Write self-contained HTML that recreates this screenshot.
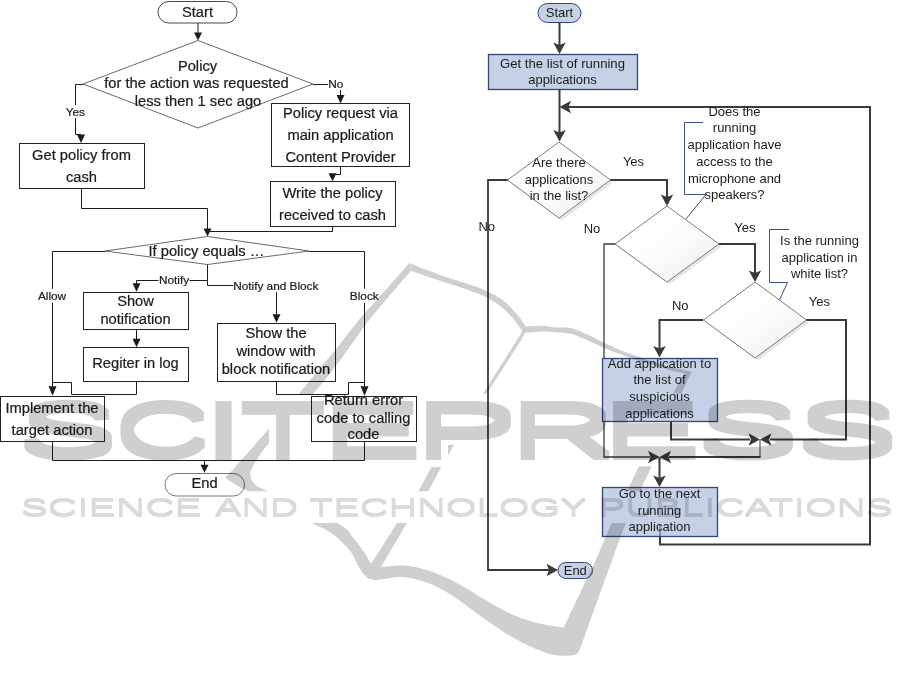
<!DOCTYPE html>
<html lang="en"><head><meta charset="utf-8"><title>Flowcharts</title>
<style>
html,body{margin:0;padding:0;background:#fff;}
body{width:910px;height:691px;overflow:hidden;}
svg{display:block;}
svg text{font-family:"Liberation Sans", sans-serif;}
.wm{mix-blend-mode:multiply;}
.lt text{stroke:#1c1c1c;stroke-width:0.22px;}
</style></head><body>
<svg width="910" height="691" viewBox="0 0 910 691">
<defs>
<linearGradient id="dg" x1="0" y1="0" x2="1" y2="1"><stop offset="0" stop-color="#ffffff"/><stop offset="0.55" stop-color="#fcfcfc"/><stop offset="1" stop-color="#ececec"/></linearGradient>
</defs>
<rect x="0" y="0" width="910" height="691" fill="#fff"/>
<g id="left-chart" class="lt">
<rect x="158" y="1.5" width="79" height="21.5" rx="10.75" fill="none" stroke="#333" stroke-width="0.9"/>
<text x="197.5" y="16.6" font-size="14.7" text-anchor="middle" fill="#1c1c1c" >Start</text>
<polyline points="198,23 198,34" fill="none" stroke="#1c1c1c" stroke-width="1" />
<polygon points="194,32.5 202,32.5 198,40.5" fill="#1c1c1c" stroke="none" stroke-width="0" />
<polygon points="83,84 198,40.5 313,84 198,128" fill="none" stroke="#444" stroke-width="0.8" />
<text x="197.5" y="70.8" font-size="14.7" text-anchor="middle" fill="#1c1c1c" >Policy</text>
<text x="196.5" y="88" font-size="14.7" text-anchor="middle" fill="#1c1c1c" >for the action was requested</text>
<text x="198" y="105.5" font-size="14.7" text-anchor="middle" fill="#1c1c1c" >less then 1 sec ago</text>
<polyline points="83,84.5 75.5,84.5 75.5,134.5 81,134.5" fill="none" stroke="#1c1c1c" stroke-width="1" />
<polygon points="77,134.5 85,134.5 81,143" fill="#1c1c1c" stroke="none" stroke-width="0" />
<rect x="63.8" y="105.0" width="23" height="13" fill="#fff"/>
<text x="75.3" y="115.5" font-size="11.8" text-anchor="middle" fill="#1c1c1c" >Yes</text>
<rect x="19.5" y="143.5" width="125.0" height="45.0" fill="none" stroke="#222" stroke-width="1" />
<text x="81.5" y="160.2" font-size="14.7" text-anchor="middle" fill="#1c1c1c" >Get policy from</text>
<text x="81.5" y="182.2" font-size="14.7" text-anchor="middle" fill="#1c1c1c" >cash</text>
<polyline points="81.5,188.5 81.5,208.5 207.5,208.5 207.5,230" fill="none" stroke="#1c1c1c" stroke-width="1" />
<polygon points="203.5,228.5 211.5,228.5 207.5,236.5" fill="#1c1c1c" stroke="none" stroke-width="0" />
<polyline points="313,84.5 340.5,84.5 340.5,96" fill="none" stroke="#1c1c1c" stroke-width="1" />
<rect x="328.05" y="77.1" width="15.5" height="13" fill="#fff"/>
<text x="335.8" y="87.6" font-size="11.8" text-anchor="middle" fill="#1c1c1c" >No</text>
<polyline points="340.5,90.5 340.5,96" fill="none" stroke="#1c1c1c" stroke-width="1" />
<polygon points="336.5,95.0 344.5,95.0 340.5,103.5" fill="#1c1c1c" stroke="none" stroke-width="0" />
<rect x="271.5" y="103.5" width="138.0" height="63.0" fill="none" stroke="#222" stroke-width="1" />
<text x="340.5" y="117.7" font-size="14.7" text-anchor="middle" fill="#1c1c1c" >Policy request via</text>
<text x="340.5" y="139.7" font-size="14.7" text-anchor="middle" fill="#1c1c1c" >main application</text>
<text x="340.5" y="161.7" font-size="14.7" text-anchor="middle" fill="#1c1c1c" >Content Provider</text>
<polyline points="340.5,166.5 340.5,174.5 332.5,174.5" fill="none" stroke="#1c1c1c" stroke-width="1" />
<polygon points="328.5,173.2 336.5,173.2 332.5,181.2" fill="#1c1c1c" stroke="none" stroke-width="0" />
<rect x="270.5" y="181.5" width="125.0" height="45.0" fill="none" stroke="#222" stroke-width="1" />
<text x="332.5" y="198.2" font-size="14.7" text-anchor="middle" fill="#1c1c1c" >Write the policy</text>
<text x="332.5" y="220.2" font-size="14.7" text-anchor="middle" fill="#1c1c1c" >received to cash</text>
<polyline points="332.5,226.5 332.5,231.5 207.5,231.5" fill="none" stroke="#1c1c1c" stroke-width="1" />
<polygon points="105,251 207.5,236.5 309,251 207.5,264.5" fill="none" stroke="#444" stroke-width="0.8" />
<text x="206.5" y="255.7" font-size="14.7" text-anchor="middle" fill="#1c1c1c" >If policy equals …</text>
<polyline points="105,251.5 52.5,251.5 52.5,388" fill="none" stroke="#1c1c1c" stroke-width="1" />
<polygon points="48.5,386.3 56.5,386.3 52.5,395.8" fill="#1c1c1c" stroke="none" stroke-width="0" />
<rect x="37.0" y="288.7" width="30" height="14" fill="#fff"/>
<text x="52" y="300.2" font-size="11.8" text-anchor="middle" fill="#1c1c1c" >Allow</text>
<polyline points="207.5,264.5 207.5,280.5 136.5,280.5 136.5,284" fill="none" stroke="#1c1c1c" stroke-width="1" />
<polygon points="132.5,283.3 140.5,283.3 136.5,291.8" fill="#1c1c1c" stroke="none" stroke-width="0" />
<rect x="158.5" y="274.5" width="31" height="12" fill="#fff"/>
<text x="174" y="284" font-size="11.8" text-anchor="middle" fill="#1c1c1c" >Notify</text>
<polyline points="207.5,280.5 207.5,285.5 276.5,285.5 276.5,315" fill="none" stroke="#1c1c1c" stroke-width="1" />
<polygon points="272.5,314.3 280.5,314.3 276.5,322.8" fill="#1c1c1c" stroke="none" stroke-width="0" />
<rect x="233.3" y="278.1" width="85" height="14" fill="#fff"/>
<text x="275.8" y="289.6" font-size="11.8" text-anchor="middle" fill="#1c1c1c" >Notify and Block</text>
<polyline points="309,251.5 364.5,251.5 364.5,388" fill="none" stroke="#1c1c1c" stroke-width="1" />
<polygon points="360.5,386.3 368.5,386.3 364.5,395.8" fill="#1c1c1c" stroke="none" stroke-width="0" />
<rect x="349.8" y="288.7" width="29" height="14" fill="#fff"/>
<text x="364.3" y="300.2" font-size="11.8" text-anchor="middle" fill="#1c1c1c" >Block</text>
<rect x="83.5" y="292.5" width="105.0" height="37.0" fill="none" stroke="#222" stroke-width="1" />
<text x="135.5" y="306.1" font-size="14.7" text-anchor="middle" fill="#1c1c1c" >Show</text>
<text x="135.5" y="323.7" font-size="14.7" text-anchor="middle" fill="#1c1c1c" >notification</text>
<polyline points="136.5,329.5 136.5,340" fill="none" stroke="#1c1c1c" stroke-width="1" />
<polygon points="132.5,338.7 140.5,338.7 136.5,347.2" fill="#1c1c1c" stroke="none" stroke-width="0" />
<rect x="83.5" y="347.5" width="105.0" height="34.0" fill="none" stroke="#222" stroke-width="1" />
<text x="135.5" y="367.7" font-size="14.7" text-anchor="middle" fill="#1c1c1c" >Regiter in log</text>
<polyline points="136.5,381.5 136.5,394.5 71.5,394.5 71.5,382.5 52.5,382.5" fill="none" stroke="#1c1c1c" stroke-width="1" />
<rect x="0.5" y="396.5" width="104.0" height="45.0" fill="none" stroke="#222" stroke-width="1" />
<text x="52" y="412.7" font-size="14.7" text-anchor="middle" fill="#1c1c1c" >Implement the</text>
<text x="52" y="434.7" font-size="14.7" text-anchor="middle" fill="#1c1c1c" >target action</text>
<rect x="217.5" y="323.5" width="118.0" height="58.0" fill="none" stroke="#222" stroke-width="1" />
<text x="276" y="338.2" font-size="14.7" text-anchor="middle" fill="#1c1c1c" >Show the</text>
<text x="276" y="355.8" font-size="14.7" text-anchor="middle" fill="#1c1c1c" >window with</text>
<text x="276" y="373.7" font-size="14.7" text-anchor="middle" fill="#1c1c1c" >block notification</text>
<polyline points="276.5,381.5 276.5,394.5 348.5,394.5 348.5,382.5 364.5,382.5" fill="none" stroke="#1c1c1c" stroke-width="1" />
<rect x="311.5" y="396.5" width="105.0" height="45.0" fill="none" stroke="#222" stroke-width="1" />
<text x="363.5" y="405.2" font-size="14.7" text-anchor="middle" fill="#1c1c1c" >Return error</text>
<text x="363.5" y="422.7" font-size="14.7" text-anchor="middle" fill="#1c1c1c" >code to calling</text>
<text x="363.5" y="438.7" font-size="14.7" text-anchor="middle" fill="#1c1c1c" >code</text>
<polyline points="52.5,441.5 52.5,460.5 364.5,460.5 364.5,441.5" fill="none" stroke="#1c1c1c" stroke-width="1" />
<polyline points="204.5,460.5 204.5,466" fill="none" stroke="#1c1c1c" stroke-width="1" />
<polygon points="200.5,464.8 208.5,464.8 204.5,472.8" fill="#1c1c1c" stroke="none" stroke-width="0" />
<rect x="165" y="473.5" width="79.5" height="22.5" rx="11.25" fill="none" stroke="#555" stroke-width="0.8"/>
<text x="204.5" y="488.2" font-size="14.7" text-anchor="middle" fill="#1c1c1c" >End</text>
</g>
<g id="right-chart">
<rect x="538" y="3.5" width="43" height="19" rx="9.5" fill="#c6d1e6" stroke="#34457a" stroke-width="1"/>
<text x="559.5" y="17.2" font-size="13" text-anchor="middle" fill="#1c1c1c" >Start</text>
<polyline points="559.5,23 559.5,46" fill="none" stroke="#3a3a3a" stroke-width="2" />
<polygon points="559.5,54 553.3,42.5 559.5,45.0 565.7,42.5" fill="#3a3a3a" stroke="none" stroke-width="0" />
<rect x="488.5" y="54.5" width="149.0" height="35.0" fill="#c6d1e6" stroke="#34457a" stroke-width="1.3" />
<text x="562.5" y="67.7" font-size="13" text-anchor="middle" fill="#1c1c1c" textLength="125" lengthAdjust="spacingAndGlyphs">Get the list of running</text>
<text x="562.5" y="84.2" font-size="13" text-anchor="middle" fill="#1c1c1c" >applications</text>
<polyline points="559.5,90 559.5,133" fill="none" stroke="#3a3a3a" stroke-width="2" />
<polygon points="559.5,141.5 553.3,130.0 559.5,132.5 565.7,130.0" fill="#3a3a3a" stroke="none" stroke-width="0" />
<polyline points="660,536.5 660,544.5 870,544.5 870,107 568,107" fill="none" stroke="#3a3a3a" stroke-width="2" />
<polygon points="559.5,107 571.0,100.8 568.5,107 571.0,113.2" fill="#3a3a3a" stroke="none" stroke-width="0" />
<polyline points="508,180 488,180 488,570 549,570" fill="none" stroke="#3a3a3a" stroke-width="1.8" />
<polygon points="558,570 546.5,563.8 549.0,570 546.5,576.2" fill="#3a3a3a" stroke="none" stroke-width="0" />
<polyline points="610,180 667,180 667,197" fill="none" stroke="#3a3a3a" stroke-width="2" />
<polygon points="667,206 660.8,194.5 667,197.0 673.2,194.5" fill="#3a3a3a" stroke="none" stroke-width="0" />
<polyline points="615,244 604,244 604,457 650,457" fill="none" stroke="#3a3a3a" stroke-width="1.3" />
<polygon points="659.5,457 648.0,450.8 650.5,457 648.0,463.2" fill="#3a3a3a" stroke="none" stroke-width="0" />
<polyline points="719,244 755,244 755,273" fill="none" stroke="#3a3a3a" stroke-width="2" />
<polygon points="755,282 748.8,270.5 755,273.0 761.2,270.5" fill="#3a3a3a" stroke="none" stroke-width="0" />
<polyline points="806,320 846,320 846,439.5 770,439.5" fill="none" stroke="#3a3a3a" stroke-width="2" />
<polygon points="760,439.5 771.5,433.3 769.0,439.5 771.5,445.7" fill="#3a3a3a" stroke="none" stroke-width="0" />
<polyline points="703,320 659.5,320 659.5,349" fill="none" stroke="#3a3a3a" stroke-width="2" />
<polygon points="659.5,357.5 653.3,346.0 659.5,348.5 665.7,346.0" fill="#3a3a3a" stroke="none" stroke-width="0" />
<polyline points="671,421.5 671,439.5 750,439.5" fill="none" stroke="#3a3a3a" stroke-width="2" />
<polygon points="760,439.5 748.5,433.3 751.0,439.5 748.5,445.7" fill="#3a3a3a" stroke="none" stroke-width="0" />
<polyline points="760,439.5 760,457" fill="none" stroke="#3a3a3a" stroke-width="1" />
<polyline points="760.5,457 669,457" fill="none" stroke="#3a3a3a" stroke-width="2" />
<polygon points="659.5,457 671.0,450.8 668.5,457 671.0,463.2" fill="#3a3a3a" stroke="none" stroke-width="0" />
<polyline points="659.5,457 659.5,478" fill="none" stroke="#3a3a3a" stroke-width="2" />
<polygon points="659.5,487 653.3,475.5 659.5,478.0 665.7,475.5" fill="#3a3a3a" stroke="none" stroke-width="0" />
<polygon points="510.0,182.5 561.5,144.5 613.0,182.5 561.5,220.5" fill="#dcdcdc" stroke="none" stroke-width="0" opacity="0.7"/>
<polygon points="507.5,180 559,142 610.5,180 559,218" fill="url(#dg)" stroke="#6e6e6e" stroke-width="0.9" />
<polygon points="617.5,246.5 669.5,208.5 721.5,246.5 669.5,284.5" fill="#dcdcdc" stroke="none" stroke-width="0" opacity="0.7"/>
<polygon points="615,244 667,206 719,244 667,282" fill="url(#dg)" stroke="#6e6e6e" stroke-width="0.9" />
<polygon points="706.0,322.5 757.5,284.5 809.0,322.5 757.5,360.5" fill="#dcdcdc" stroke="none" stroke-width="0" opacity="0.7"/>
<polygon points="703.5,320 755,282 806.5,320 755,358" fill="url(#dg)" stroke="#6e6e6e" stroke-width="0.9" />
<text x="559" y="167.2" font-size="13" text-anchor="middle" fill="#1c1c1c" >Are there</text>
<text x="559" y="183.7" font-size="13" text-anchor="middle" fill="#1c1c1c" >applications</text>
<text x="559" y="200.2" font-size="13" text-anchor="middle" fill="#1c1c1c" >in the list?</text>
<text x="633.5" y="165.7" font-size="13" text-anchor="middle" fill="#1c1c1c" >Yes</text>
<text x="486.8" y="231.2" font-size="13" text-anchor="middle" fill="#1c1c1c" >No</text>
<text x="592" y="232.7" font-size="13" text-anchor="middle" fill="#1c1c1c" >No</text>
<text x="744.8" y="232.2" font-size="13" text-anchor="middle" fill="#1c1c1c" >Yes</text>
<text x="819.3" y="306.2" font-size="13" text-anchor="middle" fill="#1c1c1c" >Yes</text>
<text x="680.3" y="309.7" font-size="13" text-anchor="middle" fill="#1c1c1c" >No</text>
<polyline points="703,122.5 684.5,122.5 684.5,194.5 706,194.5 686,219" fill="none" stroke="#3b4f8a" stroke-width="1" />
<text x="734.5" y="115.7" font-size="13" text-anchor="middle" fill="#1c1c1c" >Does the</text>
<text x="734.5" y="132.4" font-size="13" text-anchor="middle" fill="#1c1c1c" >running</text>
<text x="734.5" y="149.1" font-size="13" text-anchor="middle" fill="#1c1c1c" >application have</text>
<text x="734.5" y="165.8" font-size="13" text-anchor="middle" fill="#1c1c1c" >access to the</text>
<text x="734.5" y="182.5" font-size="13" text-anchor="middle" fill="#1c1c1c" >microphone and</text>
<text x="734.5" y="199.2" font-size="13" text-anchor="middle" fill="#1c1c1c" >speakers?</text>
<polyline points="789,229.5 769.5,229.5 769.5,282.5 787.5,282.5 779.5,300" fill="none" stroke="#3b4f8a" stroke-width="1" />
<text x="819.5" y="245.2" font-size="13" text-anchor="middle" fill="#1c1c1c" >Is the running</text>
<text x="819.5" y="261.7" font-size="13" text-anchor="middle" fill="#1c1c1c" >application in</text>
<text x="819.5" y="278.2" font-size="13" text-anchor="middle" fill="#1c1c1c" >white list?</text>
<rect x="602.5" y="358.5" width="115.0" height="63.0" fill="#c6d1e6" stroke="#34457a" stroke-width="1.3" />
<text x="659.5" y="367.7" font-size="13" text-anchor="middle" fill="#1c1c1c" >Add application to</text>
<text x="659.5" y="384.4" font-size="13" text-anchor="middle" fill="#1c1c1c" >the list of</text>
<text x="659.5" y="401.09999999999997" font-size="13" text-anchor="middle" fill="#1c1c1c" >suspicious</text>
<text x="659.5" y="417.79999999999995" font-size="13" text-anchor="middle" fill="#1c1c1c" >applications</text>
<rect x="602.5" y="487.5" width="115.0" height="49.0" fill="#c6d1e6" stroke="#34457a" stroke-width="1.3" />
<text x="659.5" y="498.2" font-size="13" text-anchor="middle" fill="#1c1c1c" >Go to the next</text>
<text x="659.5" y="514.8" font-size="13" text-anchor="middle" fill="#1c1c1c" >running</text>
<text x="659.5" y="531.4" font-size="13" text-anchor="middle" fill="#1c1c1c" >application</text>
<polyline points="660,525 660,536.5" fill="none" stroke="#3b4f8a" stroke-width="1" />
<rect x="558" y="562.5" width="34.5" height="16" rx="8" fill="#c6d1e6" stroke="#34457a" stroke-width="1"/>
<text x="575.3" y="574.7" font-size="13" text-anchor="middle" fill="#1c1c1c" >End</text>
</g>
<g class="wm" fill="#cfcfcf" stroke="none">
<g id="logo"><path d="M409.2 262.9 C404.8 268.0 390.9 284.1 382.8 293.3 C374.7 302.5 367.6 309.7 360.3 318.3 C353.1 326.9 345.8 337.0 339.3 345.0 C332.9 353.0 328.2 358.4 321.6 366.4 C315.0 374.3 308.5 382.3 299.7 392.7 C290.9 403.1 279.9 416.1 268.7 429.0 C257.5 441.9 239.8 461.9 232.5 470.0 C225.2 478.1 226.1 476.2 224.8 477.4 L249.0 473.0 C250.3 470.9 253.3 465.2 256.6 460.3 C259.9 455.4 259.1 454.7 268.7 443.4 C278.3 432.1 302.9 405.5 314.0 392.7 C325.1 379.9 329.2 374.3 335.4 366.4 C341.6 358.4 345.5 352.6 351.0 345.0 C356.5 337.4 361.9 329.2 368.3 321.0 C374.7 312.8 382.3 304.3 389.4 295.9 C396.5 287.5 407.5 275.0 411.1 270.8 Z"/>
<path d="M224.8 477.4 C227.0 478.8 233.5 483.4 238.0 486.0 C242.5 488.6 239.7 486.8 252.0 493.0 C264.3 499.2 298.9 516.7 311.9 523.2 C324.8 529.7 323.4 527.7 329.7 532.1 C335.9 536.5 344.5 544.0 349.4 549.9 C354.3 555.8 356.5 563.4 359.3 567.7 C362.1 572.1 363.2 573.9 366.0 576.0 C368.8 578.1 374.3 579.8 376.0 580.5 L385.0 572.0 C383.8 571.2 380.3 568.9 378.0 567.5 C375.7 566.1 373.3 566.1 371.2 563.8 C369.1 561.5 368.3 558.2 365.3 553.9 C362.3 549.6 358.0 543.2 353.4 538.1 C348.8 533.0 351.8 531.0 337.6 523.2 C323.5 515.4 282.4 498.0 268.5 491.5 C254.7 485.0 257.6 486.9 254.5 484.0 C251.4 481.1 250.4 477.4 250.2 474.2 C249.9 471.0 252.5 466.5 253.0 465.0 Z"/>
<path d="M409.2 262.9 C411.4 263.8 417.2 266.2 422.3 268.2 C427.4 270.2 432.6 272.3 440.0 274.9 C447.4 277.4 458.5 280.8 466.4 283.5 C474.3 286.2 481.4 288.5 487.5 291.4 C493.6 294.2 498.5 296.9 503.3 300.6 C508.1 304.3 512.8 309.5 516.5 313.8 C520.2 318.1 524.2 324.2 525.8 326.3 L521.8 330.3 C520.3 328.2 516.1 321.8 512.6 317.8 C509.1 313.9 505.1 310.0 500.7 306.6 C496.3 303.2 491.9 300.2 486.2 297.3 C480.5 294.4 474.1 292.1 466.4 289.4 C458.7 286.6 447.4 283.2 440.0 280.8 C432.6 278.4 427.1 276.5 422.3 274.8 C417.5 273.1 413.0 271.5 411.1 270.8 Z"/>
<path d="M522.0 326.6 C525.5 326.5 537.4 325.6 542.9 325.7 C548.4 325.8 550.2 327.0 555.0 327.4 C559.8 327.8 566.0 327.0 571.5 328.2 C577.0 329.4 582.5 332.3 588.0 334.8 C593.5 337.3 598.9 340.4 604.4 343.0 C609.9 345.6 615.5 348.2 621.0 350.4 C626.5 352.6 631.9 354.3 637.4 356.2 C642.9 358.1 648.4 360.2 653.9 362.0 C659.4 363.8 664.1 365.4 670.4 367.0 C676.7 368.6 688.2 371.1 691.8 371.9 L685.2 373.5 C682.7 372.9 675.6 371.6 670.4 370.2 C665.2 368.8 659.4 366.9 653.9 365.3 C648.4 363.7 642.9 362.1 637.4 360.3 C631.9 358.5 626.5 356.7 621.0 354.6 C615.5 352.6 609.9 350.4 604.4 348.0 C598.9 345.6 593.5 342.8 588.0 340.5 C582.5 338.2 577.0 335.4 571.5 334.0 C566.0 332.6 559.8 332.7 555.0 332.3 C550.2 331.9 548.4 331.5 542.9 331.6 C537.4 331.7 525.5 332.8 522.0 333.0 Z"/>
<path d="M563.8 627.4 C569.5 615.3 590.0 572.5 598.0 555.0 C606.0 537.5 606.6 534.0 611.8 522.6 C617.0 511.2 624.8 496.2 629.3 486.8 C633.8 477.4 631.5 481.7 638.9 466.0 C646.3 450.3 666.0 407.9 673.7 392.5 C681.4 377.1 682.2 376.9 685.2 373.5 C688.2 370.1 690.7 372.2 691.8 371.9 L691.8 371.9 C690.2 375.3 688.7 376.8 682.0 392.5 C675.3 408.2 658.3 450.3 651.6 466.0 C644.9 481.7 646.2 477.4 642.0 486.8 C637.8 496.2 630.9 511.2 626.2 522.6 C621.5 534.0 621.9 533.4 614.0 555.0 C606.1 576.6 584.8 635.9 578.9 652.1 Z"/>
<path d="M372.0 566.8 C373.3 566.8 374.4 567.2 380.0 567.0 C385.6 566.8 397.1 565.0 405.7 565.7 C414.3 566.4 422.8 568.5 431.4 571.4 C439.9 574.3 448.4 578.5 457.0 583.0 C465.6 587.5 474.4 593.6 483.0 598.6 C491.6 603.6 499.6 608.9 508.6 612.9 C517.6 616.9 527.8 620.5 537.0 622.9 C546.2 625.3 557.5 626.5 563.8 627.4 C570.1 628.2 573.1 627.9 575.0 628.0 L578.9 652.1 C577.8 652.6 577.0 654.9 572.5 655.3 C568.0 655.7 559.6 656.3 551.8 654.5 C544.0 652.7 533.8 648.1 525.7 644.3 C517.6 640.4 510.6 636.2 503.0 631.4 C495.4 626.6 488.1 621.4 480.0 615.7 C471.9 610.0 462.4 602.2 454.3 597.0 C446.2 591.8 439.9 587.6 431.4 584.3 C422.8 581.0 412.3 577.7 403.0 577.0 C393.7 576.3 381.9 580.0 375.7 580.0 C369.5 580.0 367.6 577.5 366.0 577.0 Z"/>
<path d="M526.0 331.0 L521.3 340.0 L486.5 393.8 L453.5 445.7 L441.4 466.9 L428.6 490.6 L406.8 523.2 L381.1 566.7 L379.0 574.0 L366.0 572.0 L371.2 563.8 L396.9 523.2 L418.7 490.6 L431.5 466.9 L446.4 445.7 L483.0 393.8 L517.0 340.0 L522.5 331.0 Z"/></g>
<g id="halo" fill="#fff"><rect x="0" y="491.3" width="910.0" height="31.7"/>
<rect x="234.8" y="394.6" width="96.2" height="28.8"/>
<rect x="268.9" y="394.6" width="28.8" height="71.9"/>
<rect x="418.7" y="393.8" width="29.3" height="73.4"/>
<rect x="418.7" y="393.8" width="99.1" height="51.0"/>
<rect x="605" y="393.5" width="195.0" height="72.8"/></g>
<filter id="vs" x="-2%" y="-30%" width="104%" height="160%" color-interpolation-filters="sRGB"><feMorphology operator="dilate" radius="0 5.85"/></filter><text transform="translate(0,455.50) scale(1,0.7345)" font-size="100" filter="url(#vs)"><tspan x="16.92" textLength="101.96" lengthAdjust="spacingAndGlyphs">S</tspan><tspan x="113.82" textLength="96.48" lengthAdjust="spacingAndGlyphs">C</tspan><tspan x="199.40" textLength="48.06" lengthAdjust="spacingAndGlyphs">I</tspan><tspan x="238.53" textLength="88.87" lengthAdjust="spacingAndGlyphs">T</tspan><tspan x="320.30" textLength="102.66" lengthAdjust="spacingAndGlyphs">E</tspan><tspan x="413.29" textLength="105.97" lengthAdjust="spacingAndGlyphs">P</tspan><tspan x="508.61" textLength="108.48" lengthAdjust="spacingAndGlyphs">R</tspan><tspan x="600.68" textLength="101.19" lengthAdjust="spacingAndGlyphs">E</tspan><tspan x="696.30" textLength="103.82" lengthAdjust="spacingAndGlyphs">S</tspan><tspan x="795.40" textLength="103.82" lengthAdjust="spacingAndGlyphs">S</tspan></text>
<filter id="vs2" x="-2%" y="-30%" width="104%" height="160%" color-interpolation-filters="sRGB"><feMorphology operator="dilate" radius="0 2.56"/></filter><text transform="translate(0,516.10) scale(1,0.2342)" font-size="100" fill="#dadada" filter="url(#vs2)"><tspan x="20.67" textLength="181.08" lengthAdjust="spacingAndGlyphs">SCIENCE</tspan> <tspan x="214.90" textLength="83.43" lengthAdjust="spacingAndGlyphs">AND</tspan> <tspan x="309.11" textLength="277.73" lengthAdjust="spacingAndGlyphs">TECHNOLOGY</tspan> <tspan x="598.15" textLength="294.71" lengthAdjust="spacingAndGlyphs">PUBLICATIONS</tspan></text>
</g>
</svg>
</body></html>
